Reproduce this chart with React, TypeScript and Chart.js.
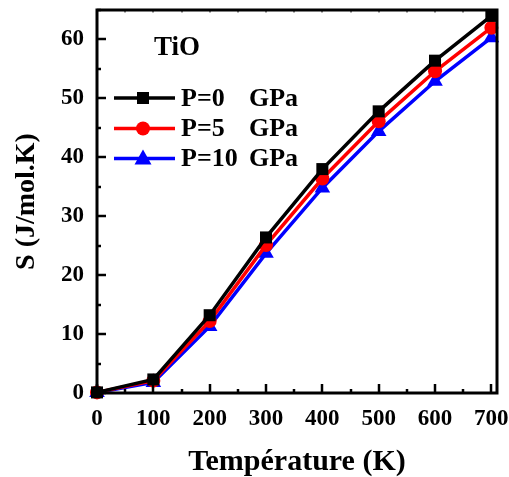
import React, { useEffect, useRef } from "react";
import { Chart, registerables } from "chart.js";

Chart.register(...registerables);

const temperatures = [0, 100, 200, 300, 400, 500, 600, 700];
const sP0 = [0.1, 2.3, 13.2, 26.4, 38.0, 47.8, 56.4, 64.0];
const sP5 = [0.1, 2.1, 12.2, 25.1, 36.4, 46.1, 54.6, 62.0];
const sP10 = [0.1, 1.8, 11.3, 23.7, 34.8, 44.4, 52.9, 60.3];
const seriesLabels = ["P=0 GPa", "P=5 GPa", "P=10 GPa"];
const seriesColors = ["#000000", "#ff0000", "#0000ff"];
const seriesMarkers = ["rect", "circle", "triangle"];
const markerRadii = [8.5, 7, 9];
const xTickValues = [0, 100, 200, 300, 400, 500, 600, 700];
const yTickValues = [0, 10, 20, 30, 40, 50, 60];
const titleText = "TiO";

const FONT = "'Liberation Serif', 'Times New Roman', serif";

function drawMarker(ctx: CanvasRenderingContext2D, style: string, x: number, y: number, color: string) {
  ctx.save();
  ctx.fillStyle = color;
  ctx.beginPath();
  if (style === "rect") {
    ctx.rect(x - 6, y - 6, 12, 12);
  } else if (style === "circle") {
    ctx.arc(x, y, 7, 0, Math.PI * 2);
  } else {
    ctx.moveTo(x, y - 9);
    ctx.lineTo(x + 8.5, y + 6);
    ctx.lineTo(x - 8.5, y + 6);
    ctx.closePath();
  }
  ctx.fill();
  ctx.restore();
}

const framePlugin = {
  id: "framePlugin",
  afterDraw(chart: any) {
    const ctx: CanvasRenderingContext2D = chart.ctx;
    const { left, right, top, bottom } = chart.chartArea;
    const xs = chart.scales.x;
    const ys = chart.scales.y;
    ctx.save();
    ctx.strokeStyle = "#000";
    ctx.lineWidth = 3;
    ctx.lineCap = "butt";
    ctx.strokeRect(left, top, right - left, bottom - top);
    ctx.lineWidth = 2.5;
    for (let v = 0; v <= 65; v += 5) {
      const py = Math.round(ys.getPixelForValue(v));
      const len = v % 10 === 0 ? 9 : 4;
      ctx.beginPath();
      ctx.moveTo(left, py);
      ctx.lineTo(left + len, py);
      ctx.stroke();
    }
    for (let v = 0; v <= 700; v += 50) {
      const px = Math.round(xs.getPixelForValue(v));
      const len = v % 100 === 0 ? 9 : 4;
      ctx.lineWidth = 2.5;
      ctx.beginPath();
      ctx.moveTo(px, bottom);
      ctx.lineTo(px, bottom - len);
      ctx.stroke();
      ctx.lineWidth = 1;
      ctx.beginPath();
      ctx.moveTo(px, top);
      ctx.lineTo(px, top + 2.5);
      ctx.stroke();
    }
    ctx.fillStyle = "#000";
    ctx.font = `bold 27px ${FONT}`;
    ctx.textBaseline = "middle";
    ctx.textAlign = "left";
    ctx.fillText(titleText, 154, 48);
    const rows = [98, 128.5, 158.5];
    chart.data.datasets.forEach((ds: any, i: number) => {
      const y = rows[i];
      ctx.strokeStyle = ds.borderColor;
      ctx.lineWidth = 3.5;
      ctx.beginPath();
      ctx.moveTo(114, y);
      ctx.lineTo(175, y);
      ctx.stroke();
      drawMarker(ctx, ds.pointStyle, 143, y, ds.borderColor);
      const parts = String(ds.label).split(" ");
      ctx.fillStyle = "#000";
      ctx.font = `bold 26px ${FONT}`;
      ctx.fillText(parts[0], 181, y + 1);
      ctx.fillText(parts[1], 249, y + 1);
    });
    ctx.restore();
  },
};

export default function App() {
  const ref = useRef<HTMLCanvasElement | null>(null);
  useEffect(() => {
    if (!ref.current) return;
    const allSeries = [sP0, sP5, sP10];
    const chart = new Chart(ref.current, {
      type: "line",
      data: {
        datasets: allSeries.map((s, i) => ({
          label: seriesLabels[i],
          data: temperatures.map((t, j) => ({ x: t, y: s[j] })),
          borderColor: seriesColors[i],
          backgroundColor: seriesColors[i],
          pointStyle: seriesMarkers[i] as any,
          pointRadius: markerRadii[i],
          pointBorderWidth: 0,
          borderWidth: 3.5,
          tension: 0,
          clip: false as any,
        })),
      },
      options: {
        responsive: false,
        animation: false,
        devicePixelRatio: 1,
        layout: { padding: { left: 0, right: 12, top: 10, bottom: 0 } },
        plugins: { legend: { display: false }, tooltip: { enabled: false } },
        scales: {
          x: {
            type: "linear",
            min: 0,
            max: 710,
            afterBuildTicks: (s: any) => {
              s.ticks = xTickValues.map((v) => ({ value: v }));
            },
            afterFit: (s: any) => {
              s.height = 84;
              s.paddingLeft = 0;
              s.paddingRight = 0;
            },
            grid: { display: false, drawTicks: false },
            border: { display: false },
            ticks: {
              padding: 12,
              color: "#000",
              font: { family: FONT, size: 23, weight: "bold" },
              maxRotation: 0,
              autoSkip: false,
            },
            title: {
              display: true,
              text: "Température (K)",
              color: "#000",
              font: { family: FONT, size: 30, weight: "bold", lineHeight: 1 },
              padding: { top: 0, bottom: 0 },
            },
          },
          y: {
            type: "linear",
            min: 0,
            max: 65,
            afterBuildTicks: (s: any) => {
              s.ticks = yTickValues.map((v) => ({ value: v }));
            },
            afterFit: (s: any) => {
              s.width = 97;
              s.paddingTop = 0;
              s.paddingBottom = 0;
            },
            grid: { display: false, drawTicks: false },
            border: { display: false },
            ticks: {
              padding: 13,
              color: "#000",
              font: { family: FONT, size: 23, weight: "bold" },
            },
            title: {
              display: true,
              text: "S (J/mol.K)",
              color: "#000",
              font: { family: FONT, size: 28, weight: "bold", lineHeight: 1.2 },
              padding: { top: 10, bottom: 0 },
            },
          },
        },
      },
      plugins: [framePlugin],
    });
    return () => chart.destroy();
  }, []);
  return (
    <div style={{ position: "fixed", left: 0, top: 0, width: 509, height: 477, background: "#fff" }}>
      <canvas ref={ref} width={509} height={477} style={{ width: 509, height: 477 }} />
    </div>
  );
}
